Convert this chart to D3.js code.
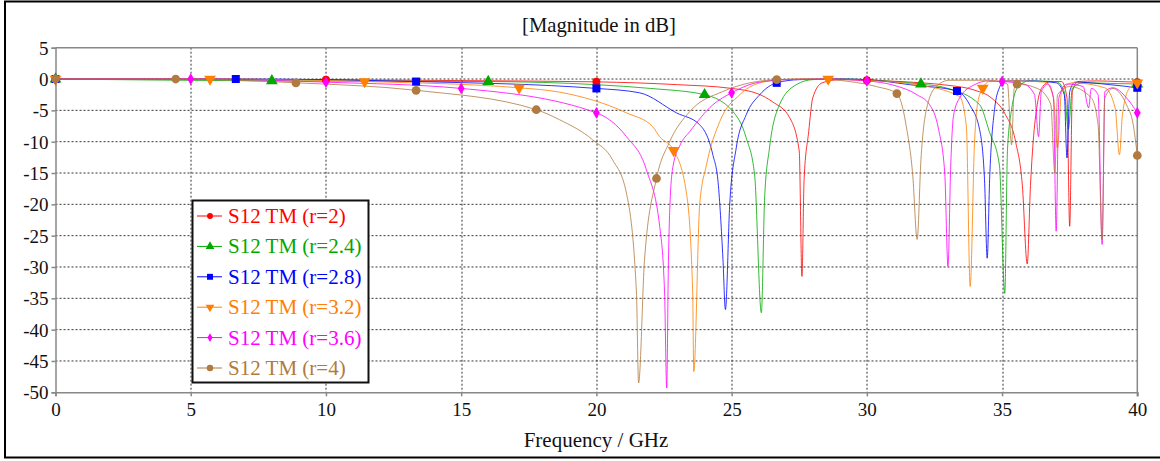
<!DOCTYPE html>
<html>
<head>
<meta charset="utf-8">
<script src="https://cdn.jsdelivr.net/npm/d3@7"></script>
<style>
  body { margin: 0; background: #fff; }
  svg text { font-family: "Liberation Serif", "Times New Roman", serif !important; }
</style>
</head>
<body>
<div id="chart"></div>
<script>
// Chart values
var xTicks = [0, 5, 10, 15, 20, 25, 30, 35, 40];
var yTicks = [5, 0, -5, -10, -15, -20, -25, -30, -35, -40, -45, -50];
var seriesNames = ["S12 TM (r=2)", "S12 TM (r=2.4)", "S12 TM (r=2.8)", "S12 TM (r=3.2)", "S12 TM (r=3.6)", "S12 TM (r=4)"];
var markerCounts = [4, 5, 6, 7, 8, 9];

// [frequency GHz, magnitude dB]
var r20 = [[0,0],[5,-0.02],[10,-0.1],[15,-0.25],[20,-0.45],[23,-0.9],[25,-1.5],[26,-2.4],[26.5,-3.6],[27.15,-6.2],[27.5,-11.5],[27.6,-31.5],[27.68,-16],[27.85,-8.4],[28,-3],[28.35,-0.6],[29,-0.1],[30,-0.2],[31,-0.35],[32,-0.6],[33,-1.0],[34,-1.8],[34.6,-3],[35.1,-5.5],[35.5,-10],[35.75,-17],[35.93,-29.5],[36.05,-17],[36.15,-10],[36.3,-4.1],[36.5,-1.2],[36.8,-0.4],[37.2,-0.4],[37.4,-3],[37.5,-23.5],[37.6,-2],[37.8,-0.4],[38.5,-0.3],[39.3,-0.4],[40,-0.5]];
var r24 = [[0,0],[8,-0.3],[12,-0.35],[16,-0.4],[20,-0.9],[22,-1.5],[24,-2.5],[25.05,-5.2],[25.54,-9.4],[25.85,-15.3],[26.1,-37.3],[26.22,-19],[26.4,-11],[26.77,-4.1],[27.39,-0.9],[28,-0.1],[29,0],[30,-0.1],[31,-0.4],[32,-0.8],[33,-1.5],[34.17,-4.1],[34.53,-8.4],[34.9,-13.7],[35.1,-34.2],[35.2,-11.3],[35.35,-4.9],[35.6,-1.2],[36,-0.3],[37,-0.4],[37.3,-2],[37.45,-8],[37.6,-1.5],[38,-0.6],[39,-0.7],[40,-0.8]];
var r28 = [[0,0],[6.67,0],[13.33,-0.4],[20,-1.5],[21.6,-2.2],[22.96,-5.4],[23.82,-7.3],[24.3,-12],[24.5,-16.5],[24.68,-28.8],[24.77,-36.8],[24.93,-20],[25.17,-11],[25.54,-5.7],[26.04,-2.5],[26.67,-0.6],[27.5,-0.1],[29,0],[30,-0.1],[31.58,-0.9],[33.33,-1.9],[33.8,-4.1],[34.17,-8.1],[34.35,-16],[34.45,-28.6],[34.54,-16],[34.72,-4.9],[34.9,-1.4],[35.09,-0.3],[36,-0.3],[37,-0.6],[37.3,-2.5],[37.4,-12.6],[37.5,-2],[37.7,-0.5],[39,-0.9],[40,-1.4]];
var r32 = [[0,0],[5.71,0],[11.43,-0.4],[17.14,-1.4],[18.65,-2.1],[21.11,-5.4],[22.08,-7.6],[22.34,-9.2],[22.86,-11.4],[23.33,-18.2],[23.56,-34],[23.6,-46.7],[23.82,-20],[24.07,-13.7],[24.56,-6.8],[25.3,-2.5],[26.28,-0.4],[27.5,0],[28.57,0],[30,-0.2],[31.83,-0.9],[33.43,-2.8],[33.68,-7.6],[33.82,-33.1],[33.98,-10.2],[34.1,-3.8],[34.29,-1.4],[34.54,-0.4],[35.5,-0.3],[36.6,-0.5],[36.9,-3],[37.05,-11],[37.2,-2],[37.6,-0.6],[38.8,-1.4],[39.18,-4.6],[39.34,-12.1],[39.45,-5.7],[39.7,-1.5],[40,-0.6]];
var r36 = [[0,0],[5,0],[10,-0.5],[15,-1.5],[20,-5.4],[21.11,-9.2],[21.85,-14.5],[22.34,-23.5],[22.52,-34],[22.6,-49.3],[22.66,-30],[22.72,-20],[22.83,-14],[23.1,-10.5],[23.45,-8.4],[24.31,-4.1],[25,-2.2],[25.9,-0.6],[27,-0.1],[28.5,0],[30,-0.3],[31,-1.0],[31.85,-2.5],[32.32,-4.1],[32.65,-8],[32.88,-15],[33,-29.9],[33.1,-14],[33.2,-6],[33.43,-3],[33.98,-0.9],[34.5,-0.3],[35,-0.4],[35.8,-0.8],[36.2,-2.5],[36.35,-9.2],[36.45,-2],[36.7,-0.8],[36.9,-3],[37,-24.3],[37.1,-3],[37.4,-0.8],[38,-1.2],[38.2,-4.6],[38.3,-1.5],[38.55,-2.5],[38.7,-26.4],[38.8,-2],[39.1,-1.4],[39.6,-3],[40,-5.4]];
var r40 = [[0,0],[4.44,0],[8.89,-0.6],[13.33,-1.8],[17.78,-4.9],[18.64,-6.5],[19.86,-9.7],[20.6,-12.9],[21.11,-18.2],[21.48,-34],[21.56,-48.5],[21.78,-28.8],[22.22,-15.9],[22.71,-10],[23.45,-5.2],[24.67,-2],[26.67,-0.1],[28,0],[29.36,-0.4],[30.35,-1.2],[31.11,-2.3],[31.46,-7.6],[31.7,-15.5],[31.86,-25.6],[32,-12.9],[32.2,-4.9],[32.56,-1.2],[33.05,-0.2],[34.5,-0.2],[35.2,-0.8],[35.35,-10.5],[35.45,-1.5],[35.56,-0.8],[36.3,-1.5],[36.8,-4],[36.95,-15],[37.05,-2.5],[37.5,-1.2],[38.3,-3],[38.55,-7.3],[38.7,-25.6],[38.8,-3],[39.1,-1.5],[39.3,-2],[39.6,-4.1],[39.85,-7.3],[40,-12.2]];

var allSeries = [r20, r24, r28, r32, r36, r40];
var colors = ["#ff0000", "#00a800", "#0000ff", "#ff8000", "#ff00ff", "#b07a40"];
var symbols = [d3.symbolCircle, d3.symbolTriangle, d3.symbolSquare, d3.symbolTriangle, d3.symbolDiamond, d3.symbolCircle];
var symbolSizes = [50, 60, 64, 60, 40, 60];

var svgWidth = 1160;
var svgHeight = 461;
var margin = {top: 47.7, left: 55.5};
var width = 1081.8;
var height = 344.6;
var serif = "'Liberation Serif', 'Times New Roman', serif";

var svg = d3.select("#chart")
   .append("svg")
   .attr("width", svgWidth)
   .attr("height", svgHeight);

// outer frame
svg.append("rect")
   .attr("x", 5).attr("y", 1.5)
   .attr("width", svgWidth + 10).attr("height", 456)
   .attr("fill", "white")
   .attr("stroke", "#000")
   .attr("stroke-width", 2);

// title
svg.append("text")
   .attr("x", 599).attr("y", 32)
   .attr("text-anchor", "middle")
   .attr("font-size", "20.7px")
   .style("font-family", serif)
   .attr("fill", "#111")
   .text("[Magnitude in dB]");

var chartGroup = svg.append("g")
   .attr("transform", `translate(${margin.left}, ${margin.top})`);

var xScale = d3.scaleLinear().domain([0, 40]).range([0, width]);
var yScale = d3.scaleLinear().domain([-50, 5]).range([height, 0]);

// dotted grid
chartGroup.selectAll(".vgrid")
   .data(xTicks.filter(d => d > 0 && d < 40))
   .enter().append("line")
   .attr("x1", d => Math.round(xScale(d)) + 0.5).attr("x2", d => Math.round(xScale(d)) + 0.5)
   .attr("y1", 0).attr("y2", height)
   .attr("stroke", "#333").attr("stroke-dasharray", "2,2");

chartGroup.selectAll(".hgrid")
   .data(yTicks.filter(d => d < 5 && d > -50))
   .enter().append("line")
   .attr("x1", 0).attr("x2", width)
   .attr("y1", d => yScale(d)).attr("y2", d => yScale(d))
   .attr("stroke", "#333").attr("stroke-dasharray", "2,2");

// plot frame top / right
chartGroup.append("line")
   .attr("x1", 0).attr("x2", width).attr("y1", 0).attr("y2", 0)
   .attr("stroke", "#888").attr("stroke-width", 1.5);
chartGroup.append("line")
   .attr("x1", width).attr("x2", width).attr("y1", 0).attr("y2", height + 4)
   .attr("stroke", "#888").attr("stroke-width", 1.5);

// axes
var bottomAxis = d3.axisBottom(xScale).tickValues(xTicks).tickSize(4).tickPadding(6).tickFormat(d => String(d));
var leftAxis = d3.axisLeft(yScale).tickValues(yTicks).tickSize(4).tickPadding(3).tickFormat(d => String(d));

var xAxis = chartGroup.append("g")
   .attr("transform", `translate(0, ${height})`)
   .call(bottomAxis);
var yAxis = chartGroup.append("g")
   .call(leftAxis);

[xAxis, yAxis].forEach(function(ax) {
    ax.attr("font-family", serif);
    ax.select(".domain").attr("stroke", "#888").attr("stroke-width", 1.5);
    ax.selectAll(".tick line").attr("stroke", "#888").attr("stroke-width", 1.5);
    ax.selectAll(".tick text")
      .style("font-family", serif)
      .attr("font-size", "19px")
      .attr("fill", "#111");
});
yAxis.selectAll(".tick text").attr("dy", "0.34em");

// x label
svg.append("text")
   .attr("x", 596).attr("y", 446.5)
   .attr("text-anchor", "middle")
   .attr("font-size", "21px")
   .style("font-family", serif)
   .attr("fill", "#111")
   .text("Frequency / GHz");

// curves
var createLine = d3.line()
   .x(d => xScale(d[0]))
   .y(d => yScale(d[1]))
   .curve(d3.curveMonotoneX);

var plotGroup = chartGroup.append("g");

allSeries.forEach(function(data, i) {
    plotGroup.append("path")
       .attr("d", createLine(data))
       .attr("fill", "none")
       .attr("stroke", colors[i])
       .attr("stroke-width", 1)
       .attr("stroke-opacity", 0.8);
});

// markers at even frequency steps, value taken from the series
function valueAt(data, f) {
    var idx = d3.bisector(d => d[0]).left(data, f);
    if (idx <= 0) return data[0][1];
    if (idx >= data.length) return data[data.length - 1][1];
    var a = data[idx - 1], b = data[idx];
    return a[1] + (b[1] - a[1]) * (f - a[0]) / (b[0] - a[0]);
}

allSeries.forEach(function(data, i) {
    var n = markerCounts[i];
    var pts = d3.range(n + 1).map(k => [k * 40 / n, valueAt(data, k * 40 / n)]);
    var rot = (i === 3) ? 180 : 0;
    plotGroup.selectAll(".m" + i)
       .data(pts)
       .enter().append("path")
       .attr("d", d3.symbol().type(symbols[i]).size(symbolSizes[i]))
       .attr("transform", d => `translate(${xScale(d[0])}, ${yScale(d[1])}) rotate(${rot})`)
       .attr("fill", colors[i]);
});

// legend
var legend = svg.append("g");
legend.append("rect")
   .attr("x", 192.5).attr("y", 200.5)
   .attr("width", 176).attr("height", 182)
   .attr("fill", "white")
   .attr("stroke", "#111")
   .attr("stroke-width", 2);

seriesNames.forEach(function(name, i) {
    var ly = 216 + i * 30.4;
    legend.append("line")
       .attr("x1", 197).attr("x2", 222).attr("y1", ly).attr("y2", ly)
       .attr("stroke", colors[i]).attr("stroke-width", 1);
    legend.append("path")
       .attr("d", d3.symbol().type(symbols[i]).size(symbolSizes[i] * 0.55))
       .attr("transform", `translate(210, ${ly}) rotate(${i === 3 ? 180 : 0})`)
       .attr("fill", colors[i]);
    legend.append("text")
       .attr("x", 228).attr("y", ly + 7)
       .attr("font-size", "21px")
       .style("font-family", serif)
       .attr("fill", colors[i])
       .text(name);
});
</script>
</body>
</html>
